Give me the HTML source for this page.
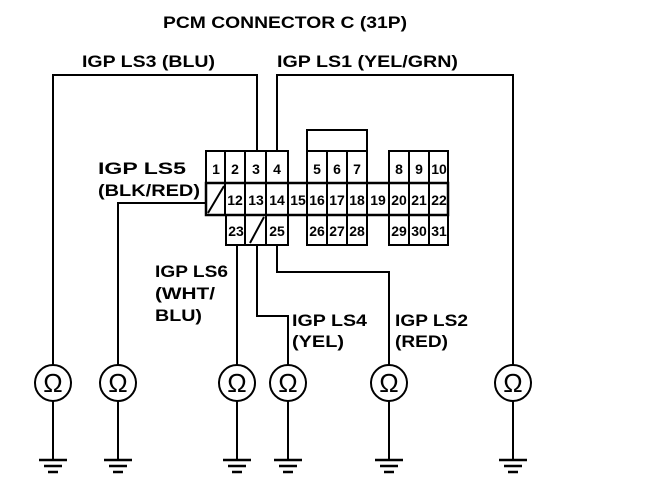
<!DOCTYPE html>
<html><head><meta charset="utf-8"><style>
html,body{margin:0;padding:0;background:#fff;}
svg{display:block;}
text{font-family:"Liberation Sans",Arial,sans-serif;font-weight:bold;fill:#000;}
text.om{font-weight:normal;}
</style></head><body>
<svg width="672" height="496" viewBox="0 0 672 496" xmlns="http://www.w3.org/2000/svg">
<defs>
<g id="g1"><line x1="-14" y1="460" x2="14" y2="460"/><line x1="-9" y1="466" x2="9" y2="466"/><line x1="-5" y1="472" x2="5" y2="472"/></g>
</defs>
<g stroke="#000" stroke-width="2" fill="none">
<polyline points="53,400 53,75 257,75 257,151"/>
<polyline points="513,365 513,75 277,75 277,151"/>
<polyline points="206,203 118,203 118,365"/>
<line x1="237" y1="245" x2="237" y2="365"/>
<polyline points="257,245 257,316 288,316 288,365"/>
<polyline points="277,245 277,272 389,272 389,365"/>
<rect x="206" y="151" width="82" height="64"/>
<rect x="226" y="215" width="62" height="30"/>
<line x1="225" y1="151" x2="225" y2="215"/>
<line x1="245" y1="151" x2="245" y2="245"/>
<line x1="266" y1="151" x2="266" y2="245"/>
<line x1="208" y1="213" x2="224" y2="186"/>
<line x1="250" y1="243" x2="264" y2="217"/>
<rect x="206" y="183" width="242" height="32" stroke-width="2.5"/>
<line x1="307" y1="183" x2="307" y2="215"/>
<rect x="307" y="130" width="60" height="21"/>
<rect x="307" y="151" width="60" height="94"/>
<line x1="327" y1="151" x2="327" y2="245"/>
<line x1="347" y1="151" x2="347" y2="245"/>
<line x1="389" y1="183" x2="389" y2="215"/>
<rect x="389" y="151" width="59" height="94"/>
<line x1="409" y1="151" x2="409" y2="245"/>
<line x1="429" y1="151" x2="429" y2="245"/>
</g>
<g font-size="14" text-anchor="middle">
<text x="216" y="174">1</text><text x="235" y="174">2</text><text x="256" y="174">3</text><text x="277" y="174">4</text>
<text x="317" y="174">5</text><text x="337" y="174">6</text><text x="357" y="174">7</text>
<text x="399" y="174">8</text><text x="419" y="174">9</text><text x="439" y="174">10</text>
<text x="235" y="205">12</text><text x="256" y="205">13</text><text x="277" y="205">14</text><text x="298" y="205">15</text>
<text x="317" y="205">16</text><text x="337" y="205">17</text><text x="357" y="205">18</text><text x="378" y="205">19</text>
<text x="399" y="205">20</text><text x="419" y="205">21</text><text x="439" y="205">22</text>
<text x="236" y="236">23</text><text x="277" y="236">25</text>
<text x="317" y="236">26</text><text x="337" y="236">27</text><text x="357" y="236">28</text>
<text x="399" y="236">29</text><text x="419" y="236">30</text><text x="439" y="236">31</text>
</g>
<g stroke="#000" fill="none" stroke-width="2">
<circle cx="53" cy="383" r="18" fill="#fff"/><circle cx="118" cy="383" r="18" fill="#fff"/><circle cx="237" cy="383" r="18" fill="#fff"/>
<circle cx="288" cy="383" r="18" fill="#fff"/><circle cx="389" cy="383" r="18" fill="#fff"/><circle cx="513" cy="383" r="18" fill="#fff"/>
<line x1="53" y1="401" x2="53" y2="460"/><line x1="118" y1="401" x2="118" y2="460"/><line x1="237" y1="401" x2="237" y2="460"/>
<line x1="288" y1="401" x2="288" y2="460"/><line x1="389" y1="401" x2="389" y2="460"/><line x1="513" y1="401" x2="513" y2="460"/>
</g>
<g stroke="#000" stroke-width="2.5">
<use href="#g1" x="53"/><use href="#g1" x="118"/><use href="#g1" x="237"/><use href="#g1" x="288"/><use href="#g1" x="389"/><use href="#g1" x="513"/>
</g>
<g font-size="26" text-anchor="middle">
<text class="om" x="53" y="392">Ω</text><text class="om" x="118" y="392">Ω</text><text class="om" x="237" y="392">Ω</text><text class="om" x="288" y="392">Ω</text><text class="om" x="389" y="392">Ω</text><text class="om" x="513" y="392">Ω</text>
</g>
<g font-size="17">
<text x="163" y="28" textLength="244" lengthAdjust="spacingAndGlyphs">PCM CONNECTOR C (31P)</text>
<text x="82" y="67" textLength="133" lengthAdjust="spacingAndGlyphs">IGP LS3 (BLU)</text>
<text x="277" y="67" textLength="181" lengthAdjust="spacingAndGlyphs">IGP LS1 (YEL/GRN)</text>
<text x="98" y="174" textLength="88" lengthAdjust="spacingAndGlyphs">IGP LS5</text>
<text x="98" y="196" textLength="102" lengthAdjust="spacingAndGlyphs">(BLK/RED)</text>
<text x="155" y="277" textLength="73" lengthAdjust="spacingAndGlyphs">IGP LS6</text>
<text x="155" y="299" textLength="60" lengthAdjust="spacingAndGlyphs">(WHT/</text>
<text x="155" y="321" textLength="47" lengthAdjust="spacingAndGlyphs">BLU)</text>
<text x="292" y="326" textLength="75" lengthAdjust="spacingAndGlyphs">IGP LS4</text>
<text x="292" y="347" textLength="52" lengthAdjust="spacingAndGlyphs">(YEL)</text>
<text x="395" y="326" textLength="73" lengthAdjust="spacingAndGlyphs">IGP LS2</text>
<text x="395" y="347" textLength="53" lengthAdjust="spacingAndGlyphs">(RED)</text>
</g>
</svg>
</body></html>
